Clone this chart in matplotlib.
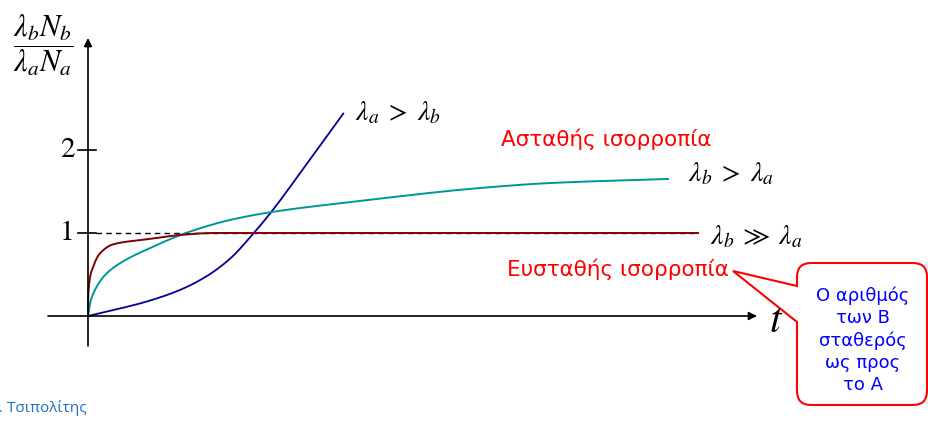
import numpy as np
import matplotlib
matplotlib.use("Agg")
import matplotlib.pyplot as plt
from matplotlib.patches import PathPatch
from matplotlib.path import Path

plt.rcParams['mathtext.fontset'] = 'stix'

# ---- data (t, ratio) ----
blue_t = [0.0, 0.253, 0.587, 0.92, 1.187, 1.42, 1.653, 1.837, 2.087, 2.287, 2.553]
blue_y = [0.0, 0.071, 0.174, 0.314, 0.480, 0.690, 0.993, 1.260, 1.665, 1.997, 2.439]

teal_t = [0.0, 0.02, 0.087, 0.187, 0.353, 0.587, 0.98, 1.42, 1.84, 2.72, 3.92, 4.62, 5.80]
teal_y = [0.0, 0.153, 0.353, 0.514, 0.66, 0.80, 1.0, 1.157, 1.253, 1.386, 1.542, 1.602, 1.651]

red_t = [0.0, 0.003, 0.053, 0.12, 0.253, 0.587, 0.92, 1.25, 2.0, 6.10]
red_y = [0.0, 0.273, 0.594, 0.755, 0.864, 0.924, 0.976, 1.0, 1.0, 1.0]

yticks = [1, 2]
ytick_labels = ['1', '2']

labels = [r'$\lambda_a\;>\;\lambda_b$', r'$\lambda_b\;>\;\lambda_a$', r'$\lambda_b\;\gg\;\lambda_a$']
unstable = 'Ασταθής ισορροπία'
stable = 'Ευσταθής ισορροπία'
callout = 'Ο αριθμός\nτων Β\nσταθερός\nως προς\nτο Α'
author = '. Τσιπολίτης'

W, H = 929, 421
fig = plt.figure(figsize=(W / 100, H / 100), dpi=100)
ax = fig.add_axes([0, 0, 1, 1])
X0, Y0, SX, SY = 88, 316, 100.0, 83.0
ax.set_xlim(-X0 / SX, (W - X0) / SX)
ax.set_ylim(-(H - Y0) / SY, Y0 / SY)
ax.axis('off')


def P(px, py):
    return ((px - X0) / SX, (Y0 - py) / SY)


def pchip(xs, ys, n=3000):
    """Monotone cubic (Fritsch-Carlson) rendering of a curve through points."""
    x = np.asarray(xs, float); y = np.asarray(ys, float)
    h = np.diff(x); d = np.diff(y) / h
    m = np.zeros_like(x)
    for k in range(1, len(x) - 1):
        if d[k - 1] * d[k] > 0:
            w1 = 2 * h[k] + h[k - 1]; w2 = h[k] + 2 * h[k - 1]
            m[k] = (w1 + w2) / (w1 / d[k - 1] + w2 / d[k])
    m[0] = d[0]; m[-1] = d[-1]
    xx = np.unique(np.concatenate([np.linspace(x[0], x[-1], n),
                                   np.linspace(x[0], min(x[-1], 0.3), 600)]))
    idx = np.clip(np.searchsorted(x, xx, side='right') - 1, 0, len(x) - 2)
    t = (xx - x[idx]) / h[idx]
    h00 = 2 * t**3 - 3 * t**2 + 1; h10 = t**3 - 2 * t**2 + t
    h01 = -2 * t**3 + 3 * t**2; h11 = t**3 - t**2
    yy = h00 * y[idx] + h10 * h[idx] * m[idx] + h01 * y[idx + 1] + h11 * h[idx] * m[idx + 1]
    return xx, yy


# axes with arrows
ax.annotate('', xy=P(757, 316), xytext=P(48, 316),
            arrowprops=dict(arrowstyle='-|>', color='black', lw=1.2, mutation_scale=12,
                            shrinkA=0, shrinkB=0))
ax.annotate('', xy=P(88, 38), xytext=P(88, 346),
            arrowprops=dict(arrowstyle='-|>', color='black', lw=1.2, mutation_scale=12,
                            shrinkA=0, shrinkB=0))
for v, lab in zip(yticks, ytick_labels):
    ax.plot([P(78, 0)[0], P(96, 0)[0]], [v, v], color='black', lw=1.2)
    ax.text(P(67, 0)[0], v, lab, fontsize=21, fontname='STIXGeneral',
            ha='center', va='center')

# dashed reference line
ax.plot([P(96, 0)[0], P(697, 0)[0]], [1, 1], color='black', lw=1.0, dashes=(4, 3))

# curves
bx, by = pchip(blue_t, blue_y)
ax.plot(bx, by, color='#000096', lw=1.3)
tx, ty = pchip(teal_t, teal_y)
ax.plot(tx, ty, color='#009696', lw=1.4)
rx, ry = pchip(red_t, red_y)
ax.plot(rx, ry, color='#800000', lw=1.4)

# math labels
ax.text(*P(355, 112), labels[0], fontsize=20, ha='left', va='center')
ax.text(*P(688, 173), labels[1], fontsize=20, ha='left', va='center')
ax.text(*P(710, 236), labels[2], fontsize=20, ha='left', va='center')

# axis labels
ax.text(*P(43, 45), r'$\dfrac{\lambda_b N_b}{\lambda_a N_a}$', fontsize=22, ha='center', va='center')
ax.text(*P(776, 320), r'$t$', fontsize=30, ha='center', va='center')

# red annotations
ax.text(*P(606, 139), unstable, fontsize=15.5, color='#ff0000', ha='center', va='center',
        family='DejaVu Sans')
ax.text(*P(618, 269), stable, fontsize=15.5, color='#ff0000', ha='center', va='center',
        family='DejaVu Sans')

# callout box with pointer (pixel layout)
x0, x1, y0, y1, r = 797, 927, 263, 405, 14
tip = (733, 271)
verts_px = [
    (x0 + r, y0), (x1 - r, y0), (x1, y0), (x1, y0 + r),
    (x1, y1 - r), (x1, y1), (x1 - r, y1),
    (x0 + r, y1), (x0, y1), (x0, y1 - r),
    (x0, 322), tip, (x0, 286),
    (x0, y0 + r), (x0, y0), (x0 + r, y0),
]
codes = [Path.MOVETO, Path.LINETO, Path.CURVE3, Path.CURVE3,
         Path.LINETO, Path.CURVE3, Path.CURVE3,
         Path.LINETO, Path.CURVE3, Path.CURVE3,
         Path.LINETO, Path.LINETO, Path.LINETO,
         Path.LINETO, Path.CURVE3, Path.CURVE3]
verts = [P(*v) for v in verts_px]
ax.add_patch(PathPatch(Path(verts, codes), facecolor='white', edgecolor='#ff0000', lw=1.5))
ax.text(*P(863, 340), callout, fontsize=13, color='#0000ff', ha='center', va='center',
        linespacing=1.3, family='DejaVu Sans')

# footer
ax.text(*P(-1, 408), author, fontsize=11, color='#1f6fc0', ha='left', va='center',
        family='Open Sans')

fig.savefig('out.png', dpi=100)
